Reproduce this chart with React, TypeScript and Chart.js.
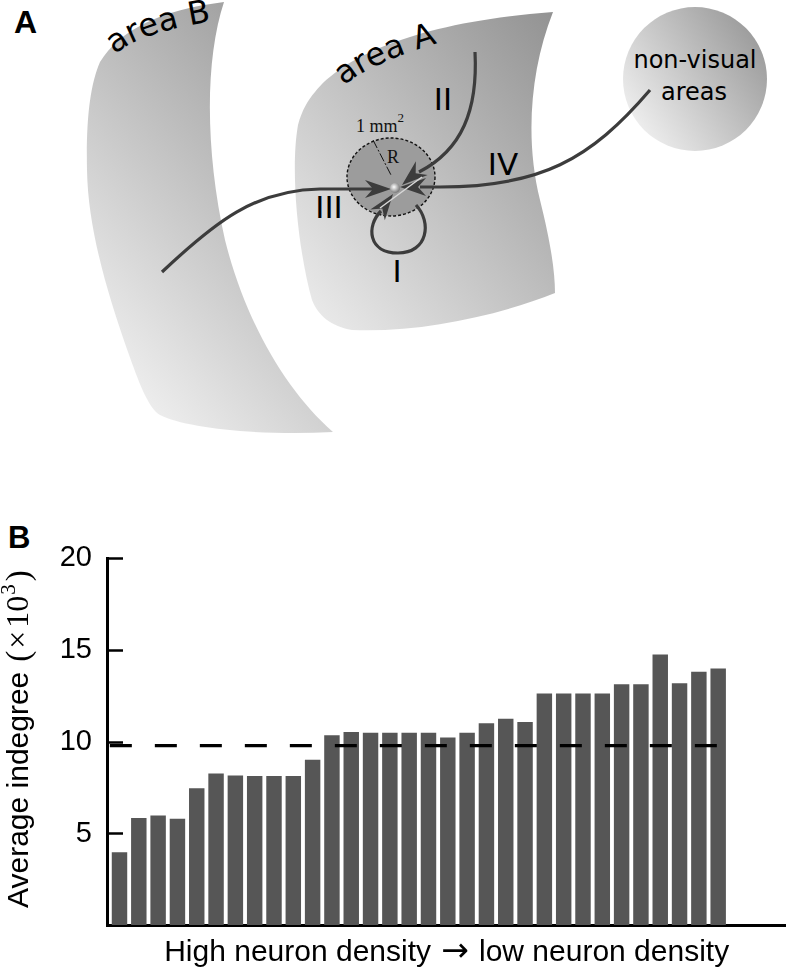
import React, { useEffect, useRef } from 'react';
import { Chart, registerables } from 'chart.js';

Chart.register(...registerables);

// ---------- Panel B data ----------
const regionIndex = [0, 1, 2, 3, 4, 5, 6, 7, 8, 9, 10, 11, 12, 13, 14, 15, 16, 17, 18, 19, 20, 21, 22, 23, 24, 25, 26, 27, 28, 29, 30, 31];
const averageIndegree = [4.0, 5.86, 5.99, 5.82, 7.48, 8.28, 8.18, 8.15, 8.15, 8.15, 9.04, 10.37, 10.54, 10.5, 10.5, 10.5, 10.5, 10.25, 10.5, 11.02, 11.27, 11.09, 12.64, 12.64, 12.64, 12.64, 13.14, 13.14, 14.76, 13.2, 13.82, 14.01];
const meanIndegree = 9.8;
const meanLineX = [-0.5, 31.2];
const yTickValues = [0, 5, 10, 15, 20];
const xRange = [-0.647, 34.46];
const xTitleLeft = 'High neuron density';
const xTitleArrow = '\u2192';
const xTitleRight = 'low neuron density';
const yTitleMain = 'Average indegree';

const SANS = '"Liberation Sans", Arial, Helvetica, sans-serif';
const SERIF = '"Liberation Serif", "Times New Roman", serif';
const DJ = '"DejaVu Sans", sans-serif';

function arrowHead(tx: number, ty: number, angleDeg: number, len = 26, half = 9, notch = 8) {
  const a = (angleDeg * Math.PI) / 180;
  const ux = Math.cos(a), uy = Math.sin(a);
  const px = -uy, py = ux;
  const bx = tx - ux * len, by = ty - uy * len;
  const p1 = [bx + px * half, by + py * half];
  const p2 = [bx - px * half, by - py * half];
  const n = [tx - ux * (len - notch), ty - uy * (len - notch)];
  return `M${tx},${ty} L${p1[0]},${p1[1]} L${n[0]},${n[1]} L${p2[0]},${p2[1]} Z`;
}

const titlesPlugin = {
  id: 'mixedTitles',
  afterDraw(chart: any) {
    const c: CanvasRenderingContext2D = chart.ctx;
    // y title (rotated)
    c.save();
    c.translate(28, 398);
    c.rotate(-Math.PI / 2);
    c.fillStyle = '#000';
    c.textBaseline = 'alphabetic';
    c.textAlign = 'left';
    c.font = `30px ${SANS}`;
    c.fillText(yTitleMain, 0, 0);
    let x = c.measureText(yTitleMain).width + 10;
    c.font = `33px ${SERIF}`;
    c.fillText('(', x, 1);
    x += c.measureText('(').width + 2;
    c.font = `32px ${SERIF}`;
    c.fillText('\u00d7', x, 0);
    x += c.measureText('\u00d7').width + 3;
    c.fillText('10', x, 0);
    x += c.measureText('10').width + 1;
    c.font = `21px ${SERIF}`;
    c.fillText('3', x, -13);
    x += c.measureText('3').width + 3;
    c.font = `33px ${SERIF}`;
    c.fillText(')', x, 1);
    c.restore();

    // x title
    const xs = chart.scales.x;
    const cx = (xs.left + xs.right) / 2 + 9;
    const base = xs.bottom - 11;
    c.save();
    c.fillStyle = '#000';
    c.textBaseline = 'alphabetic';
    c.font = `30px ${SANS}`;
    c.textAlign = 'right';
    c.fillText(xTitleLeft, cx - 24, base);
    c.textAlign = 'left';
    c.fillText(xTitleRight, cx + 24, base);
    c.font = `33px ${DJ}`;
    c.textAlign = 'center';
    c.fillText(xTitleArrow, cx, base);
    c.restore();
  },
};

function BarPanel() {
  const ref = useRef<HTMLCanvasElement>(null);
  useEffect(() => {
    const canvas = ref.current;
    if (!canvas) return;
    const chart = new Chart(canvas, {
      type: 'bar',
      data: {
        datasets: [
          {
            type: 'line',
            data: meanLineX.map((x) => ({ x, y: meanIndegree })),
            borderColor: '#000',
            borderWidth: 3.2,
            borderDash: [22, 23],
            borderCapStyle: 'butt',
            pointRadius: 0,
            fill: false,
            order: 0,
          } as any,
          {
            type: 'bar',
            data: averageIndegree.map((v, i) => ({ x: regionIndex[i], y: v })),
            backgroundColor: '#565656',
            borderWidth: 0,
            barPercentage: 0.8,
            categoryPercentage: 1,
            order: 1,
          } as any,
        ],
      },
      options: {
        responsive: false,
        animation: false,
        devicePixelRatio: 1,
        layout: { padding: { top: 27, right: 4, left: 0, bottom: 0 } },
        plugins: { legend: { display: false }, tooltip: { enabled: false } },
        scales: {
          x: {
            type: 'linear',
            min: xRange[0],
            max: xRange[1],
            offset: false,
            grid: { display: false, drawTicks: false },
            ticks: { display: false },
            border: { display: true, color: '#000', width: 3 },
            title: { display: false },
            afterFit: (s: any) => {
              s.height = 46;
            },
          },
          y: {
            type: 'linear',
            min: yTickValues[0],
            max: yTickValues[yTickValues.length - 1],
            afterBuildTicks: (s: any) => {
              s.ticks = yTickValues.map((v) => ({ value: v }));
            },
            ticks: {
              color: '#000',
              font: { family: SANS, size: 29 },
              padding: 31,
              callback: (v: any) => (Number(v) === 0 ? '' : String(v)),
            },
            grid: {
              drawOnChartArea: false,
              drawTicks: true,
              tickLength: -16,
              tickWidth: 2.5,
              tickColor: '#000',
            },
            border: { display: true, color: '#000', width: 3 },
            afterFit: (s: any) => {
              s.width = 107;
            },
          },
        },
      } as any,
      plugins: [titlesPlugin],
    });
    return () => chart.destroy();
  }, []);
  return (
    <canvas
      ref={ref}
      width={789}
      height={464}
      style={{ position: 'absolute', left: 0, top: 510, width: 789, height: 464 }}
    />
  );
}

function DiagramPanel() {
  const arrow = '#3c3c3c';
  return (
    <svg width={789} height={974} style={{ position: 'absolute', left: 0, top: 0 }}>
      <defs>
        <linearGradient id="gB" x1="0.85" y1="0" x2="0.2" y2="1">
          <stop offset="0" stopColor="#969696" />
          <stop offset="1" stopColor="#f3f3f3" />
        </linearGradient>
        <linearGradient id="gA" x1="1" y1="0" x2="0" y2="1">
          <stop offset="0" stopColor="#929292" />
          <stop offset="1" stopColor="#efefef" />
        </linearGradient>
        <linearGradient id="gC" x1="1" y1="0.15" x2="0" y2="0.85">
          <stop offset="0" stopColor="#959595" />
          <stop offset="1" stopColor="#f5f5f5" />
        </linearGradient>
        <radialGradient id="gNode" cx="0.4" cy="0.4" r="0.65">
          <stop offset="0" stopColor="#ffffff" />
          <stop offset="1" stopColor="#707070" />
        </radialGradient>
        <path id="tpB" d="M 115 55 Q 140 30 240 17" />
        <path id="tpA" d="M 344 86 Q 372 60 470 34" />
      </defs>

      {/* area B */}
      <path
        d="M 100 62 C 120 30, 160 10, 224 2 C 205 60, 205 150, 225 240 C 245 320, 285 390, 333 432 C 260 436, 185 428, 160 415 C 148 408, 138 380, 128 352 C 108 295, 88 230, 87 170 C 86 120, 90 85, 100 62 Z"
        fill="url(#gB)"
      />
      {/* area A */}
      <path
        d="M 315 92 C 345 55, 420 22, 553 12 C 530 70, 525 140, 540 200 C 550 240, 555 270, 555 293 C 500 315, 420 333, 352 330 C 330 326, 318 315, 312 300 C 298 250, 290 170, 298 125 C 302 110, 308 100, 315 92 Z"
        fill="url(#gA)"
      />
      {/* non-visual areas */}
      <circle cx={695} cy={79} r={72} fill="url(#gC)" />

      <text fontFamily={DJ} fontSize={32} fill="#000">
        <textPath href="#tpB">area B</textPath>
      </text>
      <text fontFamily={DJ} fontSize={32} fill="#000">
        <textPath href="#tpA">area A</textPath>
      </text>
      <text x={695} y={68} fontFamily={DJ} fontSize={24} textAnchor="middle" fill="#000">non-visual</text>
      <text x={694} y={100} fontFamily={DJ} fontSize={24} textAnchor="middle" fill="#000">areas</text>

      {/* 1 mm^2 disc */}
      <ellipse cx={391} cy={177} rx={44} ry={39} fill="#9c9c9c" stroke="#111" strokeWidth={1.4} strokeDasharray="3 2" />
      <line x1={373} y1={140} x2={391} y2={175} stroke="#111" strokeWidth={1} strokeDasharray="9 2 2 2" />
      <text x={356} y={132} fontFamily={SERIF} fontSize={18} fill="#111">
        1 mm<tspan dy={-10} fontSize={13}>2</tspan>
      </text>
      <text x={387} y={163} fontFamily={SERIF} fontSize={18} fill="#111">R</text>

      {/* connections */}
      <g fill="none" stroke={arrow} strokeWidth={3.2} strokeLinecap="butt">
        <path d="M 162 272 C 215 222, 255 190, 320 189 L 374 189" />
        <path d="M 475 52 C 478 110, 462 150, 419 172" />
        <path d="M 650 90 C 590 160, 540 187, 440 187 L 420 187" />
        <path d="M 416 205 C 432 222, 428 253, 398 253 C 368 253, 366 226, 381 211" />
      </g>
      <g fill={arrow}>
        <path d={arrowHead(391, 189, 0)} />
        <path d={arrowHead(402, 185, 139.4)} />
        <path d={arrowHead(400, 187, 180)} />
        <path d={arrowHead(393, 194, -53.6)} />
      </g>
      <line x1={380} y1={208} x2={422} y2={177} stroke="#d8d8d8" strokeWidth={1.5} />
      <circle cx={395} cy={188} r={5} fill="url(#gNode)" />

      {/* roman numerals */}
      <g fontFamily={DJ} fontSize={31} fill="#000" textAnchor="middle">
        <text x={329} y={218}>III</text>
        <text x={443} y={110}>II</text>
        <text x={503} y={175}>IV</text>
        <text x={397} y={282}>I</text>
      </g>

      {/* panel labels */}
      <text x={14} y={33} fontFamily={SANS} fontWeight="bold" fontSize={32} fill="#000">A</text>
      <text x={8} y={548} fontFamily={SANS} fontWeight="bold" fontSize={31} fill="#000">B</text>
    </svg>
  );
}

export default function App() {
  return (
    <div style={{ position: 'fixed', left: 0, top: 0, width: 789, height: 974, background: '#fff', overflow: 'hidden' }}>
      <DiagramPanel />
      <BarPanel />
    </div>
  );
}
